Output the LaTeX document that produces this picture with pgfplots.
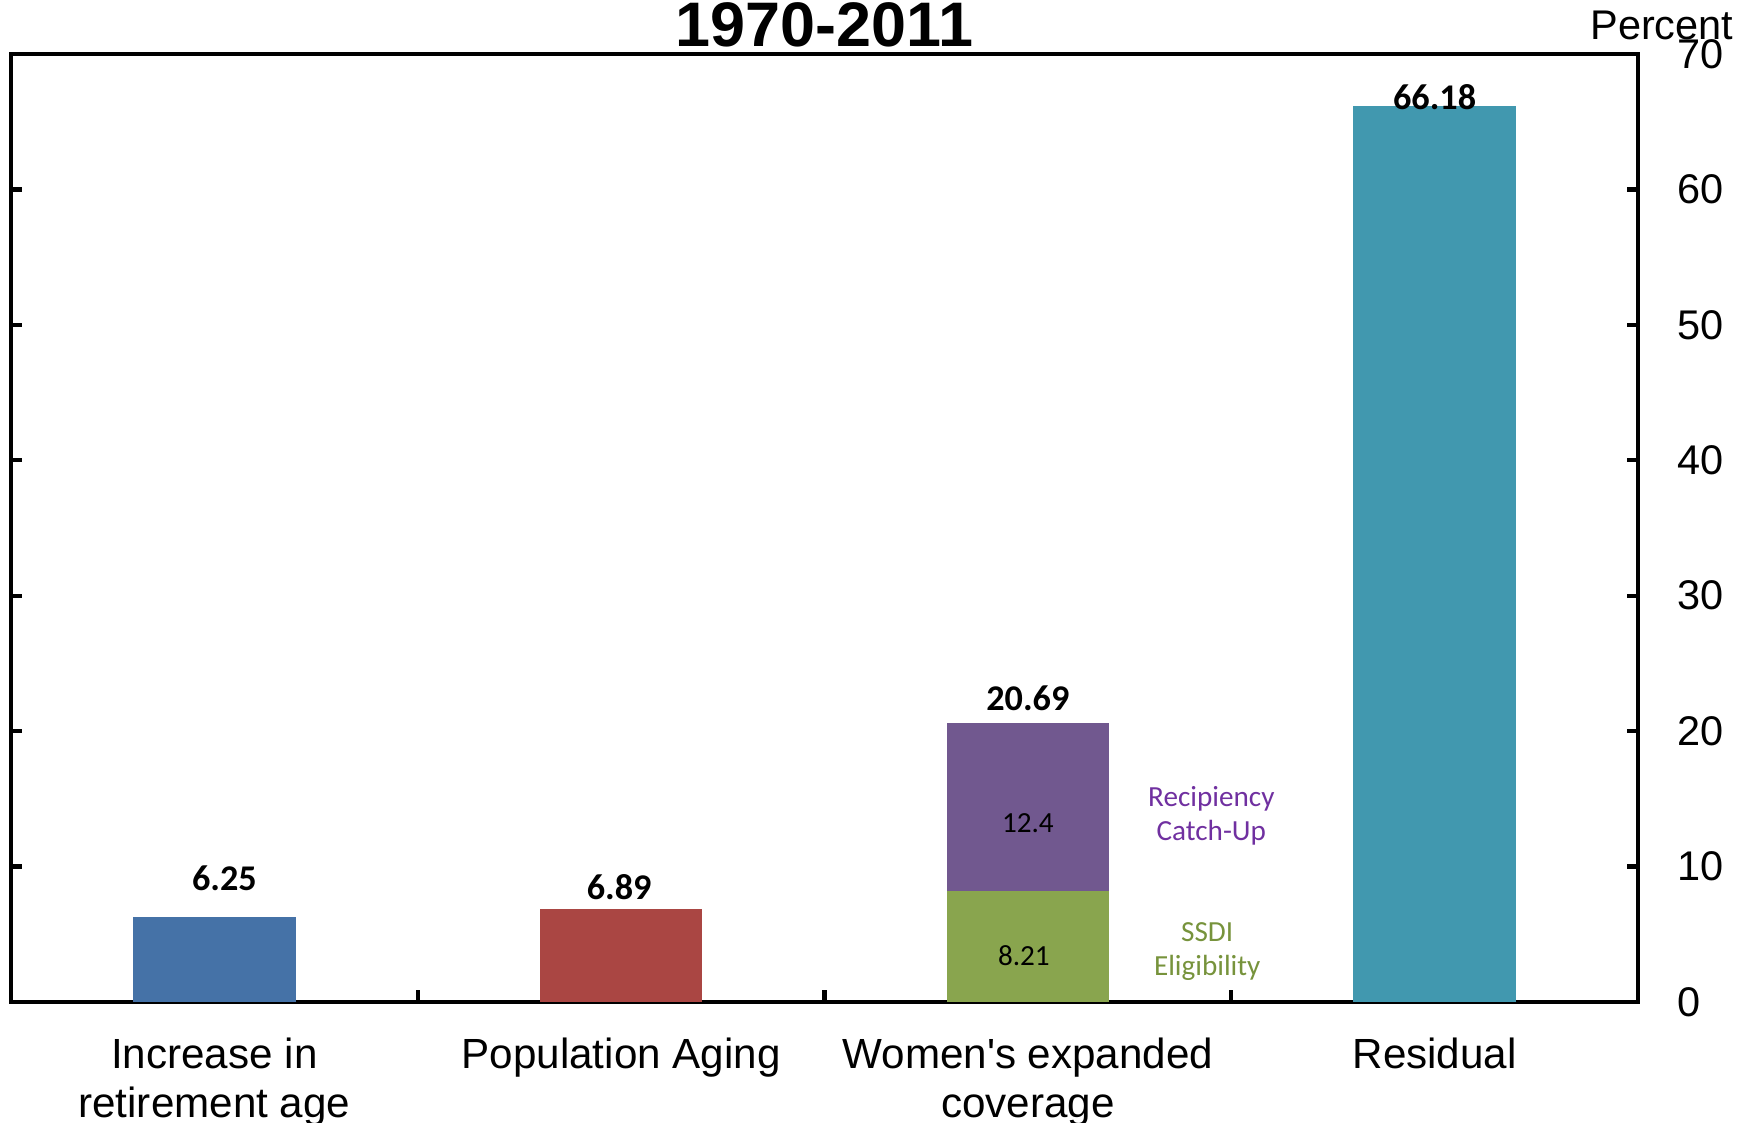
\documentclass[border=0pt]{standalone}
\usepackage{fontspec}
\setmainfont{Liberation Sans}
\newfontfamily\calib{Carlito}
\usepackage{pgfplots}
\pgfplotsset{compat=1.18}

\definecolor{barBlue}{HTML}{4572A7}
\definecolor{barRed}{HTML}{AA4643}
\definecolor{barGreen}{HTML}{89A54E}
\definecolor{barPurple}{HTML}{71588F}
\definecolor{barTeal}{HTML}{4198AF}
\definecolor{txtPurple}{HTML}{7030A0}
\definecolor{txtGreen}{HTML}{77933C}

\tikzset{
  vlab/.style={anchor=base, inner sep=0pt, font=\calib\bfseries\fontsize{10.3}{12}\selectfont},
  ilab/.style={anchor=base, inner sep=0pt, font=\calib\fontsize{8.3}{10}\selectfont},
  slab/.style={anchor=base, inner sep=0pt, font=\calib\fontsize{8.3}{10}\selectfont},
}

\begin{document}
\begin{tikzpicture}
\path[use as bounding box] (-1.1mm,-12.1mm) rectangle (173.8mm,100.2mm);
\begin{axis}[
  at={(0,0)}, anchor=south west,
  scale only axis, width=162.7mm, height=94.8mm,
  xmin=-0.5, xmax=3.5, ymin=0, ymax=70,
  clip=false,
  ybar stacked, bar width=0.4,
  axis line style={line width=0.42mm, black},
  every tick/.style={line width=0.42mm, black},
  tick align=inside,
  major tick length=1.1mm, minor tick length=1.2mm,
  ytick={0,10,...,70}, ytick pos=both, yticklabel pos=right,
  /pgf/number format/assume math mode=true,
  yticklabel style={anchor=west, inner sep=0pt, xshift=3.9mm,
    font=\fontsize{11.8}{13}\selectfont},
  xtick={0,1,2,3}, xtick pos=left,
  minor xtick={0.5,1.5,2.5},
  major x tick style={draw=none},
  xticklabels={{Increase in\\retirement age}, {Population Aging},
               {Women\textquotesingle s expanded\\coverage}, {Residual}},
  xticklabel style={anchor=north, inner sep=0pt, yshift=-3.5mm, align=center,
    font=\fontsize{12}{13.9}\selectfont},
]
% one stacked series per component; zeros keep the stacks aligned
\addplot[fill=barBlue, draw=none]   coordinates {(0,6.25) (1,0) (2,0) (3,0)};
\addplot[fill=barRed, draw=none]    coordinates {(0,0) (1,6.89) (2,0) (3,0)};
\addplot[fill=barGreen, draw=none]  coordinates {(0,0) (1,0) (2,8.21) (3,0)};
\addplot[fill=barPurple, draw=none] coordinates {(0,0) (1,0) (2,12.4) (3,0)};
\addplot[fill=barTeal, draw=none]   coordinates {(0,0) (1,0) (2,0) (3,66.18)};

% anchor points for the labels, written once the bars are drawn
\coordinate (t0) at (axis cs:0,6.25);
\coordinate (t1) at (axis cs:1,6.89);
\coordinate (t2) at (axis cs:2,20.61);
\coordinate (t3) at (axis cs:3,66.18);
\coordinate (in1) at (axis cs:2,12.55);
\coordinate (in2) at (axis cs:2,2.73);
\coordinate (s1) at (axis cs:2.451,14.40);
\coordinate (s2) at (axis cs:2.451,11.96);
\coordinate (s3) at (axis cs:2.441,4.43);
\coordinate (s4) at (axis cs:2.441,1.99);
\coordinate (ttl) at (rel axis cs:0.5,1);
\coordinate (unit) at (rel axis cs:1,1);
\end{axis}

% totals above the bars
\node[vlab, xshift=1mm, yshift=2.7mm]     at (t0) {6.25};
\node[vlab, xshift=-0.2mm, yshift=0.87mm] at (t1) {6.89};
\node[vlab, yshift=1.2mm]                 at (t2) {20.69};
\node[vlab, yshift=-0.35mm]               at (t3) {66.18};

% component values inside the stacked bar
\node[ilab] at (in1) {12.4};
\node[ilab, xshift=-0.4mm] at (in2) {8.21};

% component names beside the stacked bar
\node[slab, text=txtPurple] at (s1) {Recipiency};
\node[slab, text=txtPurple] at (s2) {Catch-Up};
\node[slab, text=txtGreen]  at (s3) {SSDI};
\node[slab, text=txtGreen]  at (s4) {Eligibility};

% title and unit
\node[anchor=base, inner sep=0pt, font=\bfseries\fontsize{17.9}{20}\selectfont]
  at (ttl) [yshift=0.7mm] {1970-2011};
\node[anchor=base east, inner sep=0pt, font=\fontsize{11.8}{13}\selectfont]
  at (unit) [xshift=9.6mm, yshift=1.4mm] {Percent};
\end{tikzpicture}
\end{document}
